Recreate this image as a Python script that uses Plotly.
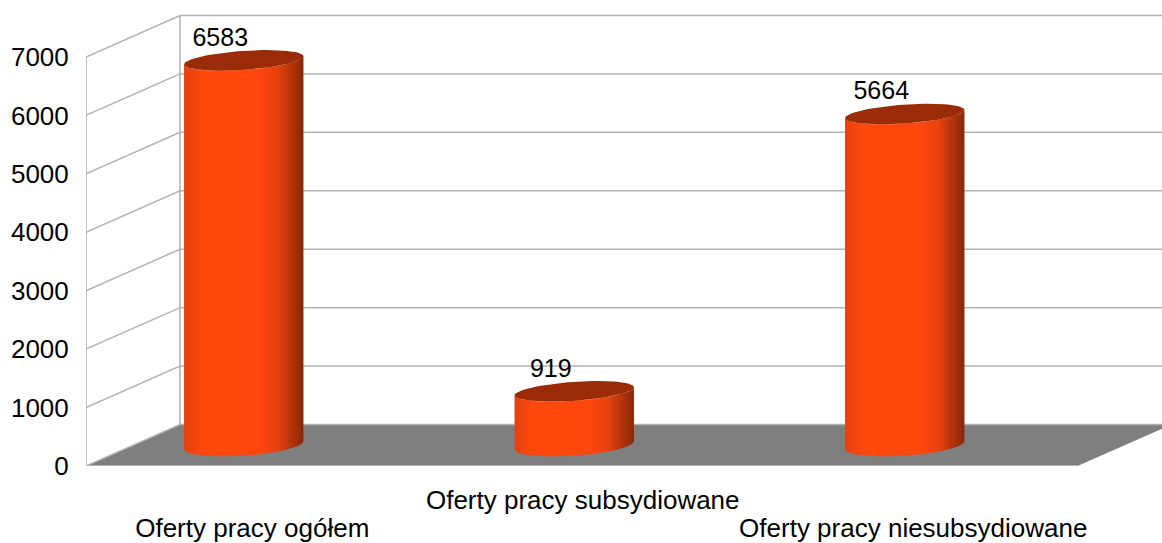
import math
import plotly.graph_objects as go

categories = ["Oferty pracy ogółem", "Oferty pracy subsydiowane", "Oferty pracy niesubsydiowane"]
values = [6583, 919, 5664]
y_ticks = [0, 1000, 2000, 3000, 4000, 5000, 6000, 7000]

W, H = 1162, 543
ML, MB = 86, 77
SLOT_PX = 330.5
PX_PER_UNIT = 409 / 7000
DX = 94 / SLOT_PX
DY = 41.5 / PX_PER_UNIT
X0 = -0.5
X1 = X0 + (W - ML) / SLOT_PX
Y1 = (H - MB) / PX_PER_UNIT
XEND = len(categories) - 0.5

CYL_X = -7.5 / SLOT_PX
CYL_BASE = 21 / PX_PER_UNIT
CYL_A = 59.7 / SLOT_PX
CYL_S = 4 / PX_PER_UNIT
CYL_B_TOP = 9.5 / PX_PER_UNIT
CYL_B_BOTTOM = 10.5 / PX_PER_UNIT
TICK_NUDGE = 1 / SLOT_PX
GRID = "#b3b3b3"
FONT = "Liberation Sans"
FS = 25
FS_AXIS = 26

fig = go.Figure()


def line(xs, ys, w=1.5, clip=True):
    fig.add_trace(go.Scatter(x=xs, y=ys, mode="lines", line=dict(color=GRID, width=w),
                             cliponaxis=clip, hoverinfo="skip"))


# floor
fig.add_trace(go.Scatter(x=[X0, XEND, XEND + DX, X0 + DX, X0], y=[0, 0, DY, DY, 0], mode="lines",
                         fill="toself", fillcolor="#7f7f7f", line=dict(width=0), hoverinfo="skip"))
# wall grid
for v in y_ticks:
    line([X0, X0 + DX, XEND + DX], [v, v + DY, v + DY])
line([X0 + DX, X0 + DX], [DY, 7000 + DY], 1.6)
line([X0, X0], [0, 7000], 1.6, False)
line([X0, XEND], [0, 0], 2, False)


def lerp(c1, c2, f):
    return tuple(a + (b - a) * f for a, b in zip(c1, c2))


def shade(f):
    edge, mid, dark, end = (226, 66, 14), (255, 72, 14), (232, 66, 14), (135, 40, 8)
    if f < 0.14:
        c = lerp(edge, mid, f / 0.14)
    elif f < 0.62:
        c = mid
    elif f < 0.78:
        c = lerp(mid, dark, (f - 0.62) / 0.16)
    else:
        c = lerp(dark, end, (f - 0.78) / 0.22)
    return "rgb(%d,%d,%d)" % tuple(round(v) for v in c)


def lower_edge(u, b):
    return CYL_S * u - b * (max(0.0, 1 - u * u)) ** 0.5


N = 70
for i, val in enumerate(values):
    cx = i + CYL_X
    for k in range(N):
        u0 = -1 + 2 * k / N
        u1 = min(1.0, -1 + 2 * (k + 1.6) / N)
        xs = [cx + CYL_A * u0, cx + CYL_A * u1, cx + CYL_A * u1, cx + CYL_A * u0, cx + CYL_A * u0]
        ys = [CYL_BASE + lower_edge(u0, CYL_B_BOTTOM), CYL_BASE + lower_edge(u1, CYL_B_BOTTOM),
              CYL_BASE + val + lower_edge(u1, CYL_B_TOP), CYL_BASE + val + lower_edge(u0, CYL_B_TOP),
              CYL_BASE + lower_edge(u0, CYL_B_BOTTOM)]
        col = shade((k + 0.5) / N)
        fig.add_trace(go.Scatter(x=xs, y=ys, mode="lines", fill="toself", fillcolor=col,
                                 line=dict(width=0), hoverinfo="skip"))
    # elliptical top
    M = 90
    us, vs = [], []
    for j in range(M + 1):
        t = 2 * math.pi * j / M
        c, s = math.cos(t), math.sin(t)
        us.append(cx + CYL_A * c)
        vs.append(CYL_BASE + val + CYL_S * c + CYL_B_TOP * s)
    fig.add_trace(go.Scatter(x=us, y=vs, mode="lines", fill="toself", fillcolor="#9a2b07",
                             line=dict(width=0), hoverinfo="skip"))

# value labels
LABEL_DY = 21 / PX_PER_UNIT
LABEL_DX = -23.5 / SLOT_PX
fig.add_trace(go.Scatter(x=[i + CYL_X + LABEL_DX for i in range(len(values))],
                         y=[v + CYL_BASE + LABEL_DY for v in values],
                         mode="text", text=[str(v) for v in values], textposition="middle center",
                         textfont=dict(family=FONT, size=FS, color="#000000"), hoverinfo="skip"))

# second row of category labels lives on an overlaid axis
fig.add_trace(go.Scatter(x=[], y=[], xaxis="x2", mode="lines", hoverinfo="skip"))

common = dict(range=[X0, X1], tickmode="array", showgrid=False, zeroline=False, showline=False,
              ticks="outside", tickcolor="rgba(0,0,0,0)", tickangle=0,
              tickfont=dict(family=FONT, size=FS_AXIS, color="#000000"))
fig.update_layout(
    width=W, height=H, margin=dict(l=ML, r=0, t=0, b=MB, pad=0, autoexpand=False),
    paper_bgcolor="white", plot_bgcolor="white", showlegend=False,
    font=dict(family=FONT, size=FS, color="#000000"),
    xaxis=dict(tickvals=[1 + TICK_NUDGE], ticktext=[categories[1]], ticklen=11, **common),
    xaxis2=dict(tickvals=[0 + TICK_NUDGE, 2 + TICK_NUDGE], ticktext=[categories[0], categories[2]],
                ticklen=39, overlaying="x", anchor="y", side="bottom", **common),
    yaxis=dict(range=[0, Y1], tickmode="array", tickvals=y_ticks, ticktext=[str(v) for v in y_ticks],
               showgrid=False, zeroline=False, showline=False, ticks="outside", ticklen=11,
               tickcolor="rgba(0,0,0,0)", tickfont=dict(family=FONT, size=FS_AXIS, color="#000000")),
)
fig.write_html("out.html", config={"displayModeBar": False},
               post_script="document.body.style.margin='0';document.body.style.overflow='hidden';")
